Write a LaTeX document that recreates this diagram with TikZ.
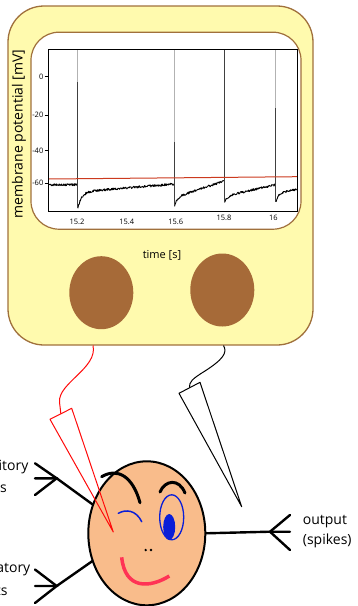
\documentclass[tikz,border=0pt]{standalone}
\usepackage{fontspec}
\setmainfont{Open Sans}
\usetikzlibrary{shapes.geometric,calc}
\definecolor{panel}{HTML}{FFFAAE}
\definecolor{rim}{HTML}{A0703C}
\definecolor{knob}{HTML}{A66A38}
\definecolor{skin}{HTML}{F9BC8B}
\definecolor{eyeblue}{HTML}{0A1ED8}
\definecolor{lip}{HTML}{FF3355}
\definecolor{thresh}{HTML}{CC3A1E}
\definecolor{probe}{HTML}{FF0A0A}
\begin{document}
\begin{tikzpicture}[x=1pt,y=-1pt,
  ticklabel/.style={font=\fontsize{7.5}{9}\selectfont, inner sep=0pt},
  bigtext/.style={font=\fontsize{14}{20}\selectfont, inner sep=0pt},
  sidetext/.style={font=\fontsize{14}{22.5}\selectfont, inner sep=0pt},
  nerve/.style={line width=2.4pt, line cap=round, black},
  brow/.style={line width=3pt, line cap=round, black},
  trace/.style={line width=0.9pt, black, line join=round},
  spikehi/.style={line width=0.6pt, black!30},
  spikelo/.style={line width=0.6pt, black!75},
  wire/.style={line width=1pt}]
\clip (0,0) rectangle (357,606);
\pgfmathsetseed{11}

% recording device
\node[draw=rim, fill=panel, line width=1.3pt, rounded corners=36pt,
      minimum width=305pt, minimum height=339pt, inner sep=0pt] (box) at (160.5,175.5) {};
\node[draw=rim, fill=white, line width=1.2pt, rounded corners=28pt,
      minimum width=270pt, minimum height=197pt, inner sep=0pt] (screen) at (166,130.7) {};

% membrane potential trace
\draw[trace] plot[domain=49:77, samples=70] (\x,{184.8+1.1*rand});
\draw[trace] plot[domain=77.8:174, samples=230] (\x,{192-(\x-78)*0.083+16*exp(-(\x-77.8)/4)+1.1*rand});
\draw[trace] plot[domain=174.5:224, samples=120] (\x,{197-(\x-176)*0.33+8*exp(-(\x-174.5)/3)+1.1*rand});
\draw[trace] plot[domain=224.5:275.7, samples=120] (\x,{196-(\x-226)*0.23+6*exp(-(\x-224.5)/3)+1.1*rand});
\draw[trace] plot[domain=276.2:297, samples=50] (\x,{193-(\x-279)*0.22+9*exp(-(\x-276.2)/2)+1.1*rand});

% spikes
\draw[spikehi] (77.3,50) -- (77.3,184);
\draw[spikelo] (77.3,82) -- (77.3,208);
\draw[spikehi] (174,50) -- (174,182);
\draw[spikelo] (174,142) -- (174,205);
\draw[spikelo] (224,50) -- (224,202);
\draw[spikehi] (275.7,50) -- (275.7,182);
\draw[spikelo] (275.7,108) -- (275.7,202);

% threshold
\draw[thresh, line width=1pt] (48.5,179) -- (297,176.7);

% axes
\node[draw=black, line width=0.8pt, minimum width=249pt, minimum height=162pt,
      inner sep=0pt] (frame) at (172.7,130.3) {};
\foreach \v/\yy [count=\i] in {0/76.7,-20/115,-40/150.7,-60/183.3}{
  \draw[line width=0.6pt] (44.5,\yy) -- (48,\yy);
  \node[ticklabel, anchor=east] (yl\i) at (43.5,\yy) {\v};
}
\foreach \v/\xx/\yy [count=\i] in {15.2/77/221.7,15.4/126.7/221.7,15.6/175.7/221.7,15.8/224/218.3,16/273.3/218.3}{
  \node[ticklabel] (xl\i) at (\xx,\yy) {\v};
}
\node[bigtext, rotate=90] (ylabel) at (19,134) {membrane potential [mV]};
\node[font=\fontsize{11}{13}\selectfont, inner sep=0pt] (xlabel) at (162,255) {time [s]};

% knobs
\node[ellipse, fill=knob, minimum width=64pt, minimum height=73pt, inner sep=0pt] (knobL) at (101.3,292.7) {};
\node[ellipse, fill=knob, minimum width=64pt, minimum height=73pt, inner sep=0pt] (knobR) at (222.3,290) {};

% electrode ports and pipettes
\coordinate (redport) at (93,345.5);
\coordinate (blkport) at (223.5,345.5);
\coordinate (rpA) at (50,419.3);
\coordinate (rpB) at (71.7,408.3);
\coordinate (rpTip) at (113.3,532);
\coordinate (rpTop) at ($ (rpA)!0.5!(rpB) $);
\coordinate (bpA) at (179,393.3);
\coordinate (bpB) at (200,382.3);
\coordinate (bpTip) at (241.7,506.7);
\coordinate (bpTop) at ($ (bpA)!0.5!(bpB) $);

\draw[probe, wire] (redport) .. controls (98,368) and (58,383) .. (59.5,402) .. controls (60,407) and (60.5,410) .. (rpTop);
\draw[black, wire] (blkport) .. controls (228,353) and (222,360) .. (205,371) .. controls (192,379) and (189,382) .. (bpTop);

% dendrites and axon
\coordinate (forkU) at (56.7,478.3);
\coordinate (forkL) at (56.7,586);
\coordinate (forkR) at (270,531.7);
\node[ellipse, minimum width=117pt, minimum height=144pt, inner sep=0pt] (soma) at (146.8,533.3) {};
\draw[nerve] (35,463.3) -- (forkU) -- (35,495);
\draw[nerve] (35,478.3) -- (forkU) -- (soma.152);
\draw[nerve] (35,569.5) -- (forkL) -- (35,603);
\draw[nerve] (35,586) -- (forkL) -- (soma.207);
\draw[nerve] (290,515) -- (forkR) -- (290,550);
\draw[nerve] (290,531.7) -- (forkR) -- (soma.east);

% the neuron's face
\node[ellipse, draw=black, fill=skin, line width=2pt, minimum width=117pt,
      minimum height=144pt, inner sep=0pt] (face) at (146.8,533.3) {};
\draw[brow] (101.7,476.7) .. controls (118,467) and (133,477) .. (140,502.7);
\draw[brow] (160,492) .. controls (165,480) and (179,478) .. (185,493);
\draw[eyeblue, line width=1.5pt, line cap=round] (118.3,513.3) .. controls (126,509) and (136,510) .. (141.7,521.7);
\node[ellipse, draw=eyeblue, line width=1.3pt, minimum width=24pt, minimum height=45pt, inner sep=0pt] (eye) at (171.7,517.3) {};
\node[ellipse, fill=eyeblue, minimum width=12pt, minimum height=26pt, inner sep=0pt] (pupil) at (169.2,527) {};
\fill (145.7,550) circle[radius=1.3pt] (151,550) circle[radius=1.3pt];
\draw[lip, line width=3.5pt] (121.7,557.3) .. controls (125,590) and (150,588) .. (169.3,576);

% pipettes
\draw[probe, line width=1pt, line join=round] (rpA) -- (rpB) -- (rpTip) -- cycle;
\draw[black, line width=1pt, line join=round] (bpA) -- (bpB) -- (bpTip) -- cycle;

% labels
\node[sidetext, align=left, anchor=north east] (inUp) at (28.5,459.5) {inhibitory\\inputs};
\node[sidetext, align=left, anchor=north east] (inLow) at (30.5,562.5) {excitatory\\inputs};
\node[bigtext, align=left, anchor=north west] (outlab) at (302.7,515.5) {output\\(spikes)};
\end{tikzpicture}
\end{document}
